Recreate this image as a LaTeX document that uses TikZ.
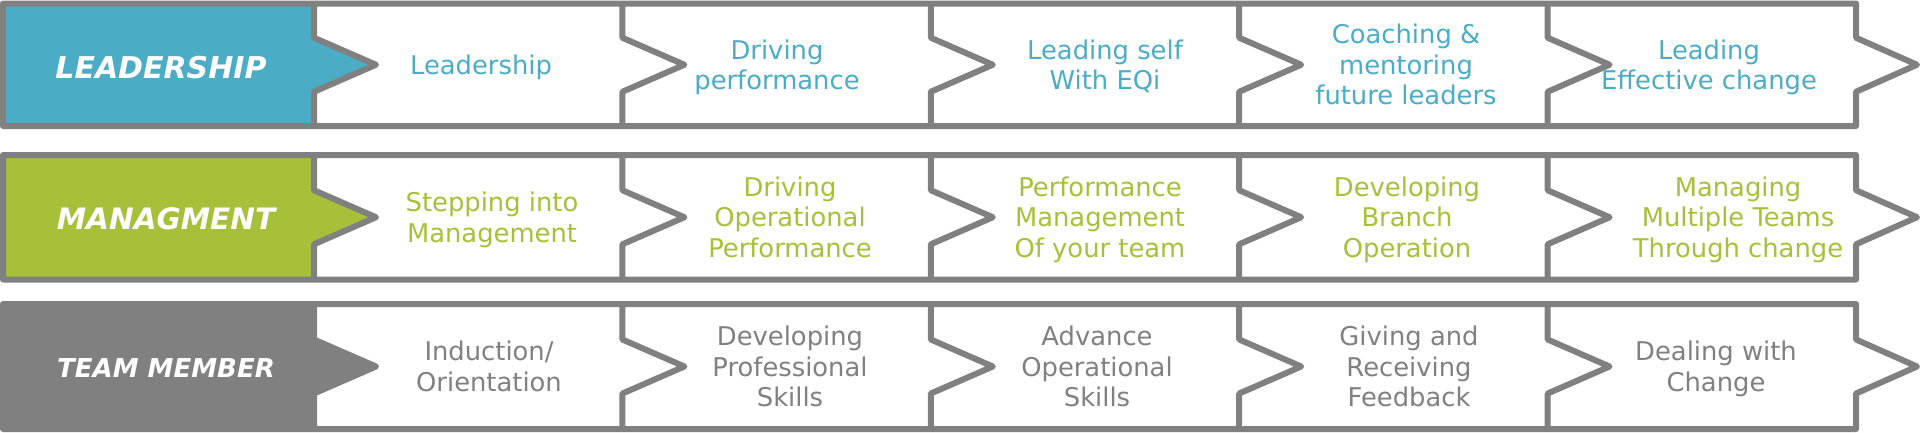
\documentclass[tikz,border=0pt]{standalone}
\usepackage{fontspec}
\setmainfont{DejaVu Sans}
\definecolor{lblue}{HTML}{4BACC6}
\definecolor{lgreen}{HTML}{A6C039}
\definecolor{lgray}{HTML}{808080}
\newcommand\Tst{\rule{0pt}{20pt}}
\newcommand\Bst{\rule[-7pt]{0pt}{7pt}}
\begin{document}
\begin{tikzpicture}[x=1pt,y=-1pt,
  frame/.style={draw=lgray, line width=6pt, line join=round},
  txt/.style={align=center, inner sep=0pt, font=\fontsize{25.8}{30.5}\selectfont},
  lbl/.style={text=white, inner sep=0pt, anchor=base}]
\useasboundingbox (0,0) rectangle (1920,432);
\foreach \t/\b/\c in {3.5/126/lblue, 155/279.5/lgreen, 304/429/lgray}{
  \pgfmathsetmacro\m{(\t+\b)/2}
  \fill[\c] (3,\t) -- (314,\t) -- (314,{\m-27}) -- (376,\m) -- (314,{\m+27}) -- (314,\b) -- (3,\b) -- cycle;
  \draw[frame] (3,\t) -- (1856,\t) -- (1856,{\m-27}) -- (1917,\m) -- (1856,{\m+27}) -- (1856,\b) -- (3,\b) -- cycle;
  \foreach \x in {314,622.4,930.8,1239.2,1547.6}
    \draw[frame] (\x,\t) -- (\x,{\m-27}) -- ({\x+62},\m) -- (\x,{\m+27}) -- (\x,\b);
}
% labels
\node[lbl, font=\fontsize{30}{36}\selectfont\bfseries\itshape] (L) at (161,78) {LEADERSHIP};
\node[lbl, font=\fontsize{29.5}{36}\selectfont\bfseries\itshape] (M) at (166,229) {MANAGMENT};
\node[lbl, font=\fontsize{26}{32}\selectfont\bfseries\itshape] (T) at (166,377) {TEAM MEMBER};
% row 1
\begin{scope}[every node/.style={txt, text=lblue}]
\node (l1) at (481,67.75) {\Tst Leadership\Bst};
\node (l2) at (777,67.75) {\Tst Driving\\performance\Bst};
\node (l3) at (1105,67.75) {\Tst Leading self\\With EQi\Bst};
\node (l4) at (1406,67.75) {\Tst Coaching \&\\mentoring\\future leaders\Bst};
\node (l5) at (1709,67.75) {\Tst Leading\\Effective change\Bst};
\end{scope}
% row 2
\begin{scope}[every node/.style={txt, text=lgreen}]
\node (m1) at (492,220.25) {\Tst Stepping into\\Management\Bst};
\node (m2) at (790,220.25) {\Tst Driving\\Operational\\Performance\Bst};
\node (m3) at (1100,220.25) {\Tst Performance\\Management\\Of your team\Bst};
\node (m4) at (1407,220.25) {\Tst Developing\\Branch\\Operation\Bst};
\node (m5) at (1738,220.25) {\Tst Managing\\Multiple Teams\\Through change\Bst};
\end{scope}
% row 3
\begin{scope}[every node/.style={txt, text=lgray}]
\node (t1) at (489,369.5) {\Tst Induction/\\Orientation\Bst};
\node (t2) at (790,369.5) {\Tst Developing\\Professional\\Skills\Bst};
\node (t3) at (1097,369.5) {\Tst Advance\\Operational\\Skills\Bst};
\node (t4) at (1409,369.5) {\Tst Giving and\\Receiving\\Feedback\Bst};
\node (t5) at (1716,369.5) {\Tst Dealing with\\Change\Bst};
\end{scope}
\end{tikzpicture}
\end{document}
